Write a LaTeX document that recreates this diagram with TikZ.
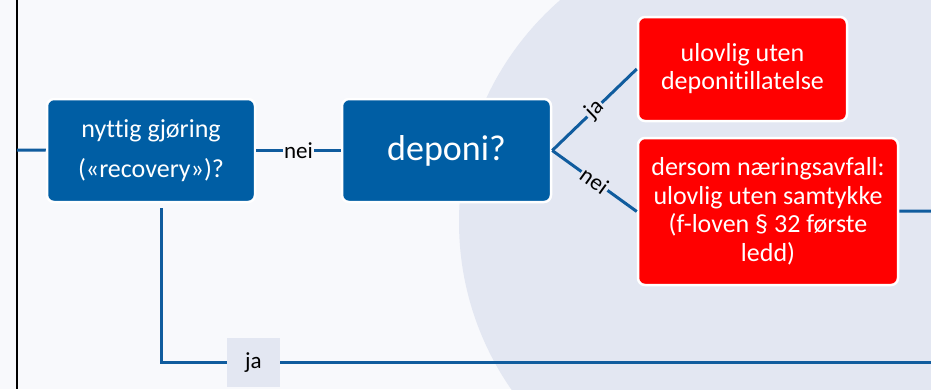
\documentclass[tikz,border=0pt]{standalone}
\usepackage{fontspec}
\setmainfont{Carlito}[Ligatures=CommonOff]
\definecolor{boxblue}{RGB}{0,94,164}
\definecolor{linjeblue}{RGB}{16,92,158}
\definecolor{paper}{RGB}{248,249,252}
\definecolor{lavender}{RGB}{227,231,242}
\tikzset{
    bluebox/.style={fill=boxblue, draw=white, line width=2.5pt, rounded corners=7pt,
        text=white, align=center, inner sep=0pt},
    redbox/.style={bluebox, fill=red},
    linje/.style={draw=linjeblue, line width=3pt},
    lbl/.style={font=\fontsize{23}{25}\selectfont, inner sep=1.5pt},
}
\begin{document}
\begin{tikzpicture}[x=1pt, y=-1pt]
    \useasboundingbox (0,0) rectangle (931,389);
    \fill [paper] (0,0) rectangle (931,389);
    \begin{scope}
        \clip (0,0) rectangle (931,389);
        \fill [lavender] (753,222) circle [radius=294];
        \fill [lavender] (753,222) -- (600,-100) -- (931,-100) -- (931,500) -- (600,500) -- cycle;
    \end{scope}
    \draw [black, line width=1.6pt] (17,0) -- (17,389);
    % boxes
    \node (nyttig) [bluebox, minimum width=208pt, minimum height=103pt,
        font=\fontsize{26}{40}\selectfont] at (151,150.5) {nyttig gjøring\\(«recovery»)?};
    \node (deponi) [bluebox, minimum width=209pt, minimum height=103pt,
        font=\fontsize{36}{40}\selectfont] at (446.5,150.5) {deponi?};
    \node (ulovlig) [redbox, minimum width=209pt, minimum height=104pt,
        font=\fontsize{26}{28}\selectfont] at (742.5,69) {ulovlig uten\\deponitillatelse};
    \node (dersom) [redbox, minimum width=260pt, minimum height=147pt,
        font=\fontsize{26}{28.5}\selectfont] at (768,211.5)
        {dersom næringsavfall:\\ulovlig uten samtykke\\(f-loven § 32 første\\ledd)};
    % connectors
    \coordinate (venstre) at (17,150);
    \coordinate (hoyre) at (931,211);
    \coordinate (kne) at (161,362);
    \coordinate (slutt) at (931,362);
    \draw [linje] (venstre) -- (nyttig);
    \draw [linje] (nyttig) -- node [lbl, fill=paper] {nei} (deponi);
    \draw [linje] (deponi.east) -- node [lbl, fill=lavender, sloped] {ja} (ulovlig.west);
    \draw [linje] (deponi.east) -- node [lbl, fill=lavender, sloped] {nei} (dersom.west);
    \draw [linje] (dersom) -- (hoyre);
    \draw [linje, line cap=rect] ([xshift=10pt, yshift=-6pt]nyttig.south) -- (kne) -- (slutt);
    \node (ja) [lbl, fill=lavender, minimum width=53pt, minimum height=49pt] at (253.5,362.5) {ja};
\end{tikzpicture}
\end{document}
